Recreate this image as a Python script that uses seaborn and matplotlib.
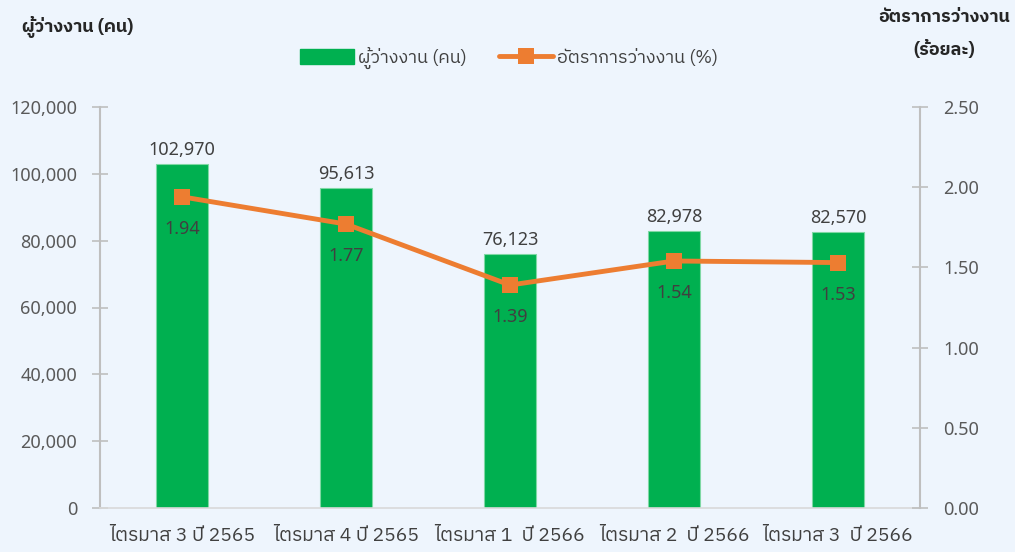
import matplotlib
matplotlib.use("Agg")
import matplotlib.pyplot as plt
from matplotlib import font_manager as fm
from matplotlib.ft2font import FT2Font
from matplotlib.patches import Patch
from matplotlib.lines import Line2D
import seaborn as sns
import pandas as pd
import numpy as np

categories = ["ไตรมาส 3 ปี 2565", "ไตรมาส 4 ปี 2565", "ไตรมาส 1  ปี 2566",
              "ไตรมาส 2  ปี 2566", "ไตรมาส 3  ปี 2566"]
unemployed = [102970, 95613, 76123, 82978, 82570]
rate = [1.94, 1.77, 1.39, 1.54, 1.53]
left_ticks = [0, 20000, 40000, 60000, 80000, 100000, 120000]
right_ticks = [0.0, 0.5, 1.0, 1.5, 2.0, 2.5]

# find fonts with Thai glyphs
thai_fonts = set()
for f in fm.fontManager.ttflist:
    if f.name in thai_fonts:
        continue
    try:
        cm = FT2Font(f.fname).get_charmap()
        if 0x0E1C in cm and 0x0E27 in cm:
            thai_fonts.add(f.name)
    except Exception:
        pass
thai = None
for pref in ["IBM Plex Sans Thai", "Sarabun", "Loma", "Garuda", "Umpush"]:
    if pref in thai_fonts:
        thai = pref
        break
if thai is None and thai_fonts:
    thai = sorted(thai_fonts)[0]

sns.set_theme(style="white")
num_fam = ["Noto Sans", "DejaVu Sans"]
thai_fam = ([thai] if thai else []) + ["Noto Sans", "DejaVu Sans"]
plt.rcParams['font.family'] = num_fam

bg = "#EEF5FD"
grey = "#595959"
dark = "#404040"
fig = plt.figure(figsize=(10.15, 5.52), dpi=100, facecolor=bg)
ax = fig.add_axes([100/1015, 1-508/552, 820/1015, 401/552])
ax.set_facecolor(bg)
df = pd.DataFrame({"cat": categories, "n": unemployed, "r": rate})
sns.barplot(data=df, x="cat", y="n", color="#00B050", saturation=1, width=0.317, ax=ax,
            edgecolor="#7FD8A4", linewidth=0.8)
ax.set_xlim(-0.5, 4.5)
ax.set_ylim(0, 120000)
ax.set_yticks(left_ticks)
ax.set_yticklabels([f"{v:,}" for v in left_ticks], color=grey, fontsize=13)
ax.set_xticks(range(len(categories)))
ax.set_xticklabels(categories, family=thai_fam, fontsize=14, color=dark)
ax.set_xlabel(""); ax.set_ylabel("")
ax.tick_params(axis="x", length=0, pad=14)
ax.tick_params(axis="y", direction="inout", length=11, color="#BFBFBF", width=1.2, pad=11)
for s in ["top", "right"]:
    ax.spines[s].set_visible(False)
ax.spines["left"].set_color("#BFBFBF"); ax.spines["left"].set_linewidth(1.5)
ax.spines["bottom"].set_color("#D9D9D9"); ax.spines["bottom"].set_linewidth(1.2)
for i, v in enumerate(unemployed):
    ax.text(i, v + 4200, f"{v:,}", ha="center", va="center", fontsize=13, color=dark)

ax2 = ax.twinx()
sns.lineplot(x=np.arange(len(rate)), y=rate, ax=ax2, color="#ED7D31", linewidth=3.5,
             marker="s", markersize=11, markeredgewidth=0)
ax2.set_ylim(0, 2.5)
ax2.set_yticks(right_ticks)
ax2.set_yticklabels([f"{v:.2f}" for v in right_ticks], color=grey, fontsize=13)
ax2.tick_params(axis="y", direction="inout", length=11, color="#BFBFBF", width=1.2, pad=11)
for s in ["top", "left", "bottom"]:
    ax2.spines[s].set_visible(False)
ax2.spines["right"].set_color("#BFBFBF"); ax2.spines["right"].set_linewidth(1.5)
for i, v in enumerate(rate):
    ax2.text(i, v - 0.2, f"{v:.2f}", ha="center", va="center", fontsize=13, color=dark)

tkw = dict(fontsize=13, fontweight="bold", color="#262626", family=thai_fam)
fig.text(22/1015, 1-27/552, "ผู้ว่างงาน (คน)", ha="left", va="center", **tkw)
fig.text(944/1015, 1-17/552, "อัตราการว่างงาน", ha="center", va="center", **tkw)
fig.text(944/1015, 1-50/552, "(ร้อยละ)", ha="center", va="center", **tkw)

handles = [Patch(color="#00B050", label="ผู้ว่างงาน (คน)"),
           Line2D([0], [0], color="#ED7D31", lw=3.5, marker="s", markersize=11,
                  markeredgewidth=0, label="อัตราการว่างงาน (%)")]
fig.legend(handles=handles, loc="center", bbox_to_anchor=(509/1015, 1-58/552), ncol=2,
           frameon=False, prop={"family": thai_fam, "size": 13}, labelcolor=dark,
           handlelength=3.0, handleheight=0.85, columnspacing=1.8, handletextpad=0.2)
fig.savefig("out.png", dpi=100, facecolor=bg)
